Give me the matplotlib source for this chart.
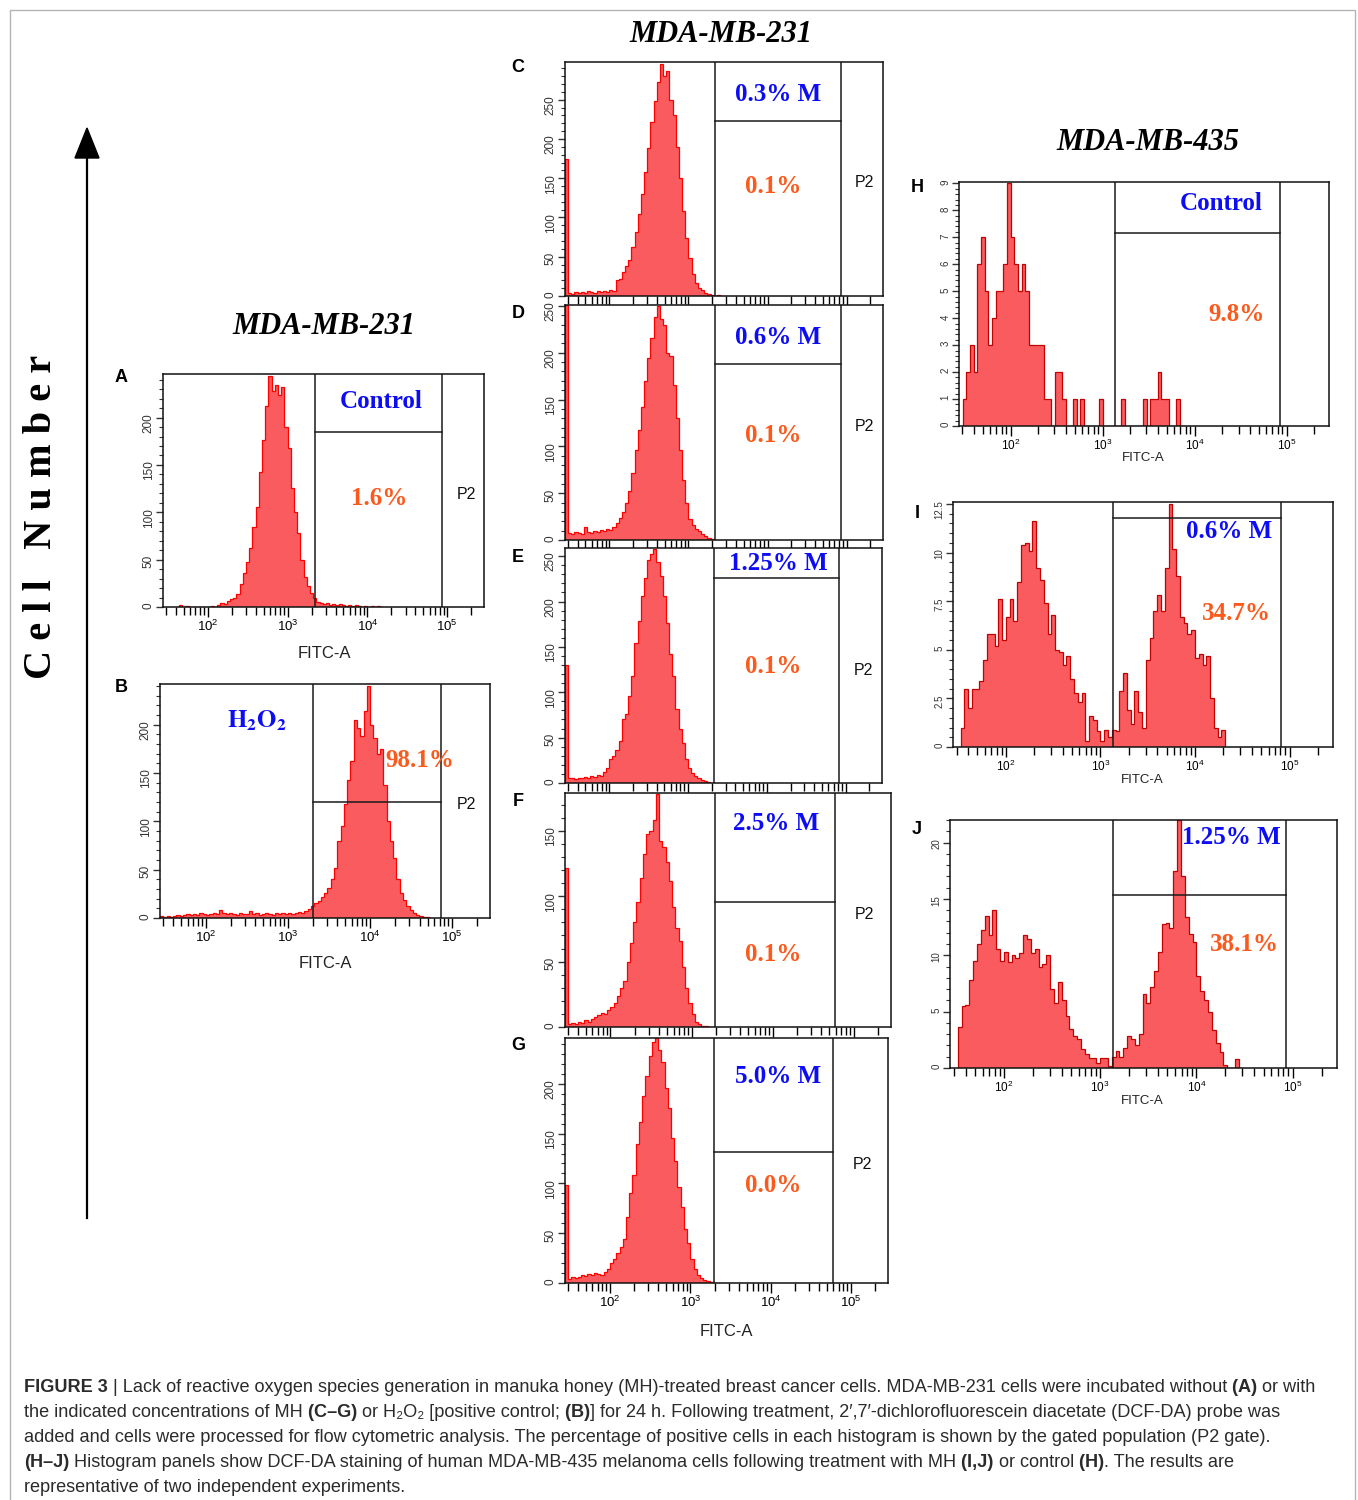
import numpy as np
import matplotlib.pyplot as plt
from matplotlib import font_manager
from matplotlib.patches import Polygon, Rectangle
from matplotlib.ticker import (LogLocator, MultipleLocator, NullFormatter,
                               FuncFormatter, LogFormatterSciNotation)

plt.rcParams['font.family'] = ['Liberation Sans', 'DejaVu Sans']

#%% histogram data, counts per channel group (each group is 0.04 decade of FITC-A)
STEP = 0.04

a_start = 1.60
a_counts = [0, 2, 0, 1, 0, 0, 0, 0, 0, 0,
            0, 1, 0, 2, 4, 3, 6, 8, 10, 14,
            24, 36, 47, 62, 84, 106, 143, 176, 212, 244,
            228, 234, 224, 232, 190, 168, 126, 100, 78, 50,
            32, 22, 15, 9, 5, 4, 3, 4, 2, 3,
            2, 3, 2, 1, 2, 1, 2, 1, 0, 1,
            0, 1, 0, 1, 0]

b_start = 1.44
b_counts = [2, 1, 2, 1, 2, 3, 2, 3, 4, 3,
            4, 3, 5, 4, 3, 4, 5, 4, 8, 5,
            4, 5, 4, 3, 5, 4, 4, 7, 4, 5,
            3, 4, 5, 4, 3, 5, 4, 5, 4, 5,
            4, 5, 6, 5, 7, 9, 12, 15, 18, 22,
            26, 31, 40, 52, 80, 95, 118, 143, 162, 205,
            196, 188, 214, 240, 200, 186, 170, 175, 138, 100,
            80, 62, 40, 26, 19, 12, 8, 5, 3, 2,
            1, 1, 0]

c_start = 1.44
c_counts = [175, 4, 3, 5, 4, 5, 4, 6, 5, 4,
            6, 5, 6, 5, 8, 7, 20, 22, 30, 38,
            46, 62, 82, 104, 130, 158, 188, 222, 248, 272,
            296, 280, 286, 250, 230, 190, 150, 108, 74, 48,
            28, 17, 10, 8, 4, 2, 1, 0, 1, 0]

d_start = 1.44
d_counts = [251, 8, 6, 9, 7, 6, 14, 9, 8, 10,
            9, 11, 10, 12, 11, 14, 18, 24, 30, 40,
            52, 72, 96, 118, 142, 170, 194, 216, 238, 250,
            236, 230, 200, 196, 166, 130, 96, 64, 40, 22,
            16, 12, 10, 6, 4, 2, 1, 0]

e_start = 1.44
e_counts = [130, 5, 6, 4, 6, 5, 7, 6, 8, 7,
            9, 8, 12, 16, 26, 30, 36, 46, 70, 76,
            96, 118, 154, 178, 206, 226, 246, 252, 258, 244,
            228, 206, 176, 142, 118, 82, 60, 44, 26, 16,
            11, 8, 5, 3, 2, 1, 0]

f_start = 1.44
f_counts = [122, 2, 3, 2, 4, 3, 5, 4, 6, 8,
            9, 11, 10, 13, 15, 18, 24, 30, 35, 50,
            64, 80, 96, 114, 132, 148, 150, 158, 178, 142,
            138, 126, 112, 92, 76, 66, 46, 30, 18, 10,
            4, 2, 1, 1, 0]

g_start = 1.44
g_counts = [98, 4, 6, 5, 6, 8, 7, 9, 8, 10,
            9, 8, 11, 14, 20, 24, 30, 36, 44, 66,
            90, 108, 140, 162, 188, 208, 228, 242, 246, 234,
            222, 196, 176, 146, 122, 96, 76, 54, 40, 24,
            14, 8, 5, 3, 2, 1, 0]

h_start = 1.48
h_counts = [1, 2, 3, 2, 6, 7, 5, 3, 4, 5,
            5, 6, 9, 7, 6, 5, 6, 5, 3, 3,
            3, 3, 1, 1, 0, 2, 2, 1, 0, 0,
            1, 0, 1, 0, 0, 0, 0, 1, 0, 0,
            0, 0, 0, 1, 0, 0, 0, 0, 0, 1,
            0, 1, 1, 2, 1, 1, 0, 0, 1, 0]

i_start = 1.52
i_counts = [1, 3, 2, 3, 3, 3.4, 4.5, 5.8, 5.8, 5.2,
            7.6, 5.5, 6.7, 7.6, 6.5, 8.5, 10.4, 10.5, 10.1, 11.6,
            9.2, 8.6, 7.4, 5.8, 6.8, 5.0, 4.9, 4.2, 4.7, 3.5,
            2.8, 2.3, 2.8, 0.3, 1.6, 1.4, 0.8, 0.3, 0.9, 0.5,
            0.9, 0.8, 2.9, 3.8, 1.9, 1.2, 2.9, 1.8, 1.0, 4.5,
            5.6, 7.0, 7.8, 7.0, 9.2, 12.5, 10.2, 8.8, 6.7, 6.4,
            5.8, 6.0, 4.6, 4.8, 4.2, 4.7, 2.5, 1.0, 0.5, 0.9]

j_start = 1.52
j_counts = [3.6, 5.5, 5.6, 7.8, 9.5, 11.0, 12.2, 13.5, 11.8, 14.0,
            10.6, 9.5, 10.3, 9.4, 10.0, 9.8, 10.2, 11.8, 11.4, 10.2,
            10.6, 9.0, 9.2, 10.0, 7.0, 5.8, 7.6, 6.0, 4.6, 3.5,
            2.8, 2.6, 1.7, 1.2, 0.9, 0.9, 0.4, 0.9, 0.9, 0.2,
            1.0, 1.5, 1.0, 1.8, 2.8, 2.6, 2.0, 3.0, 6.6, 5.8,
            7.2, 8.6, 10.3, 12.8, 12.9, 12.4, 17.5, 22.0, 17.0, 13.4,
            11.9, 11.2, 8.2, 6.8, 6.0, 5.0, 3.4, 2.2, 1.4, 0.3,
            0, 0, 0.8, 0]

panel_names = ['A', 'B', 'C', 'D', 'E', 'F', 'G', 'H', 'I', 'J']
starts = [a_start, b_start, c_start, d_start, e_start, f_start, g_start, h_start, i_start, j_start]
counts = [a_counts, b_counts, c_counts, d_counts, e_counts, f_counts, g_counts, h_counts, i_counts, j_counts]

treatments = ['Control', r'$\mathbf{H_2O_2}$', '0.3% M', '0.6% M', '1.25% M',
              '2.5% M', '5.0% M', 'Control', '0.6% M', '1.25% M']
positive = ['1.6%', '98.1%', '0.1%', '0.1%', '0.1%', '0.1%', '0.0%', '9.8%', '34.7%', '38.1%']

# P2 gate (FITC-A limits) and the marker line inside it
gate_lo = [2198, 2012, 2167, 2167, 2133, 1950, 1977, 1368, 1358, 1349]
gate_hi = [85000, 72600, 85000, 85000, 81800, 59000, 59800, 85000, 81600, 85000]
gate_y = [185, 120, 223, 188, 226, 95.6, 131.6, 7.16, 11.8, 15.35]
y_top = [246, 242, 298, 251, 259, 179, 246, 9.05, 12.6, 22]

#%% layout
W, H = 1358, 1500
boxes = [(163, 374, 484, 607), (160, 684, 490, 918), (565, 62, 883, 296),
         (565, 305, 883, 540), (565, 548, 882, 783), (565, 793, 891, 1027),
         (565, 1038, 888, 1283), (959, 182, 1329, 426), (953, 502, 1333, 747),
         (950, 820, 1337, 1068)]
y_major = [50, 50, 50, 50, 50, 50, 50, 1, 2.5, 5]
y_minor = [10, 10, 10, 10, 10, 10, 10, 0.2, 0.5, 1]
x_labels = [True, True, False, False, False, False, True, True, True, True]
treat_xy = [(0.679, 0.884), (0.294, 0.842), (0.670, 0.859), (0.670, 0.860), (0.672, 0.936),
            (0.647, 0.868), (0.659, 0.841), (0.708, 0.910), (0.726, 0.878), (0.726, 0.931)]
pct_xy = [(0.673, 0.464), (0.788, 0.675), (0.654, 0.466), (0.654, 0.443), (0.656, 0.494),
          (0.638, 0.308), (0.644, 0.400), (0.749, 0.455), (0.745, 0.543), (0.760, 0.496)]
p2_xy = [(0.944, 0.481), (0.930, 0.483), (0.943, 0.483), (0.943, 0.481), (0.940, 0.477),
         (0.920, 0.479), (0.920, 0.482), None, None, None]
letter_xy = [(121, 378), (121, 688), (518, 67), (518, 314), (518, 557),
             (518, 802), (518, 1045), (917, 188), (917, 513), (917, 829)]

XLO, XHI = 10 ** 1.44, 10 ** 5.46
FILL = '#f95b5e'
BLUE = '#0c0cf5'
ORANGE = '#fb5a1c'
SERIF = ['Liberation Serif', 'DejaVu Serif']

fig = plt.figure(figsize=(W / 100, H / 100), dpi=100)
bg = fig.add_axes([0, 0, 1, 1])
bg.set_xlim(0, W)
bg.set_ylim(H, 0)
bg.axis('off')

#%% histogram panels
for k, name in enumerate(panel_names):
    l, t, r, b = boxes[k]
    ax = fig.add_axes([l / W, 1 - b / H, (r - l) / W, (b - t) / H])
    small = name in 'HIJ'
    edge = '#c40000' if small else '#ff0000'

    edges = 10 ** (starts[k] + STEP * np.arange(len(counts[k]) + 1))
    ax.stairs(counts[k], edges, fill=True, facecolor=FILL, linewidth=0)
    ax.stairs(counts[k], edges, color=edge, linewidth=0.9)

    ax.set_xscale('log')
    ax.set_xlim(XLO, XHI)
    ax.set_ylim(0, y_top[k])

    # gate
    ax.axvline(gate_lo[k], color='#1a1a1a', lw=1.1)
    ax.axvline(gate_hi[k], color='#1a1a1a', lw=1.1)
    ax.plot([gate_lo[k], gate_hi[k]], [gate_y[k], gate_y[k]], color='#1a1a1a', lw=1.1)

    ax.xaxis.set_major_locator(LogLocator(base=10, numticks=10))
    ax.xaxis.set_minor_locator(LogLocator(base=10, subs=np.arange(2, 10), numticks=20))
    ax.xaxis.set_major_formatter(LogFormatterSciNotation(labelOnlyBase=True))
    ax.xaxis.set_minor_formatter(NullFormatter())
    ax.yaxis.set_major_locator(MultipleLocator(y_major[k]))
    ax.yaxis.set_minor_locator(MultipleLocator(y_minor[k]))
    ax.yaxis.set_major_formatter(FuncFormatter(lambda v, p: f'{v:g}'))

    ax.tick_params(axis='x', which='major', direction='out', length=7, width=1,
                   labelsize=8.5 if small else 9.5, pad=1.5, labelbottom=x_labels[k])
    ax.tick_params(axis='x', which='minor', direction='out', length=6, width=1)
    ax.tick_params(axis='y', which='major', direction='out', length=5, width=1,
                   labelsize=7 if small else 8.5, labelrotation=90, pad=1, colors='#333333')
    ax.tick_params(axis='y', which='minor', direction='out', length=3, width=0.8, colors='#333333')
    for s in ax.spines.values():
        s.set_linewidth(1.1)
        s.set_color('#111111')

    tx, ty = treat_xy[k]
    ax.text(tx, ty, treatments[k], transform=ax.transAxes, ha='center', va='center',
            color=BLUE, fontsize=18, fontweight='bold', family=SERIF, math_fontfamily='stix')
    px, py = pct_xy[k]
    ax.text(px, py, positive[k], transform=ax.transAxes, ha='center', va='center',
            color=ORANGE, fontsize=18, fontweight='bold', family=SERIF)
    if p2_xy[k] is not None:
        ax.text(p2_xy[k][0], p2_xy[k][1], 'P2', transform=ax.transAxes,
                ha='center', va='center', fontsize=11.5, color='#111111')

    lx, ly = letter_xy[k]
    bg.text(lx, ly, name, ha='center', va='center', fontsize=13, fontweight='bold')

#%% axis titles, cell line titles, y arrow
for (x, y), size in zip([(324, 654), (325, 964), (726, 1331), (1143, 458), (1142, 780), (1142, 1101)],
                        [12, 12, 12, 9.5, 9.5, 9.5]):
    bg.text(x, y, 'FITC-A', ha='center', va='center', fontsize=size, color='#222222')

for (x, y), txt in zip([(324, 327), (721, 35), (1148, 143)], ['MDA-MB-231', 'MDA-MB-231', 'MDA-MB-435']):
    bg.text(x, y, txt, ha='center', va='center', fontsize=22, fontweight='bold',
            fontstyle='italic', family=SERIF)

bg.text(42, 517, 'C e l l   N u m b e r', rotation=90, ha='center', va='center',
        fontsize=29, fontweight='bold', family=SERIF)
bg.plot([87, 87], [1218, 150], color='black', lw=1.6)
bg.add_patch(Polygon([[87, 128], [75, 158], [99, 158]], closed=True, color='black'))

bg.add_patch(Rectangle((10, 10), 1345, 1510, fill=False, edgecolor='#b4b4b4', lw=1))

#%% caption
names = {f.name for f in font_manager.fontManager.ttflist}
cap_family = ['Liberation Sans Narrow', 'DejaVu Sans'] if 'Liberation Sans Narrow' in names \
    else ['Liberation Sans', 'DejaVu Sans']

caption = [
    [('FIGURE 3', True), (' | Lack of reactive oxygen species generation in manuka honey (MH)-treated breast cancer cells. MDA-MB-231 cells were incubated without', False), (' (A)', True), (' or with', False)],
    [('the indicated concentrations of MH', False), (' (C\u2013G)', True), (' or H\u2082O\u2082 [positive control;', False), (' (B)', True), ('] for 24 h. Following treatment, 2\u2032,7\u2032-dichlorofluorescein diacetate (DCF-DA) probe was', False)],
    [('added and cells were processed for flow cytometric analysis. The percentage of positive cells in each histogram is shown by the gated population (P2 gate).', False)],
    [('(H\u2013J)', True), (' Histogram panels show DCF-DA staining of human MDA-MB-435 melanoma cells following treatment with MH', False), (' (I,J)', True), (' or control', False), (' (H)', True), ('. The results are', False)],
    [('representative of two independent experiments.', False)],
]
baselines = [1392, 1417, 1442, 1467, 1492]

renderer = fig.canvas.get_renderer()


def draw_line(segs, y, size, keep=True):
    x = 24
    made = []
    for txt, bold in segs:
        t = bg.text(x, y, txt, fontsize=size, fontweight='bold' if bold else 'normal',
                    family=cap_family, color='#2b2b2b', ha='left', va='baseline')
        x += t.get_window_extent(renderer).width
        made.append(t)
    if not keep:
        for t in made:
            t.remove()
    return x - 24


width10 = draw_line(caption[0], baselines[0], 10, keep=False)
cap_size = 10 * 1296 / width10
for segs, y in zip(caption, baselines):
    draw_line(segs, y, cap_size)

fig.savefig('out.png', dpi=100)
